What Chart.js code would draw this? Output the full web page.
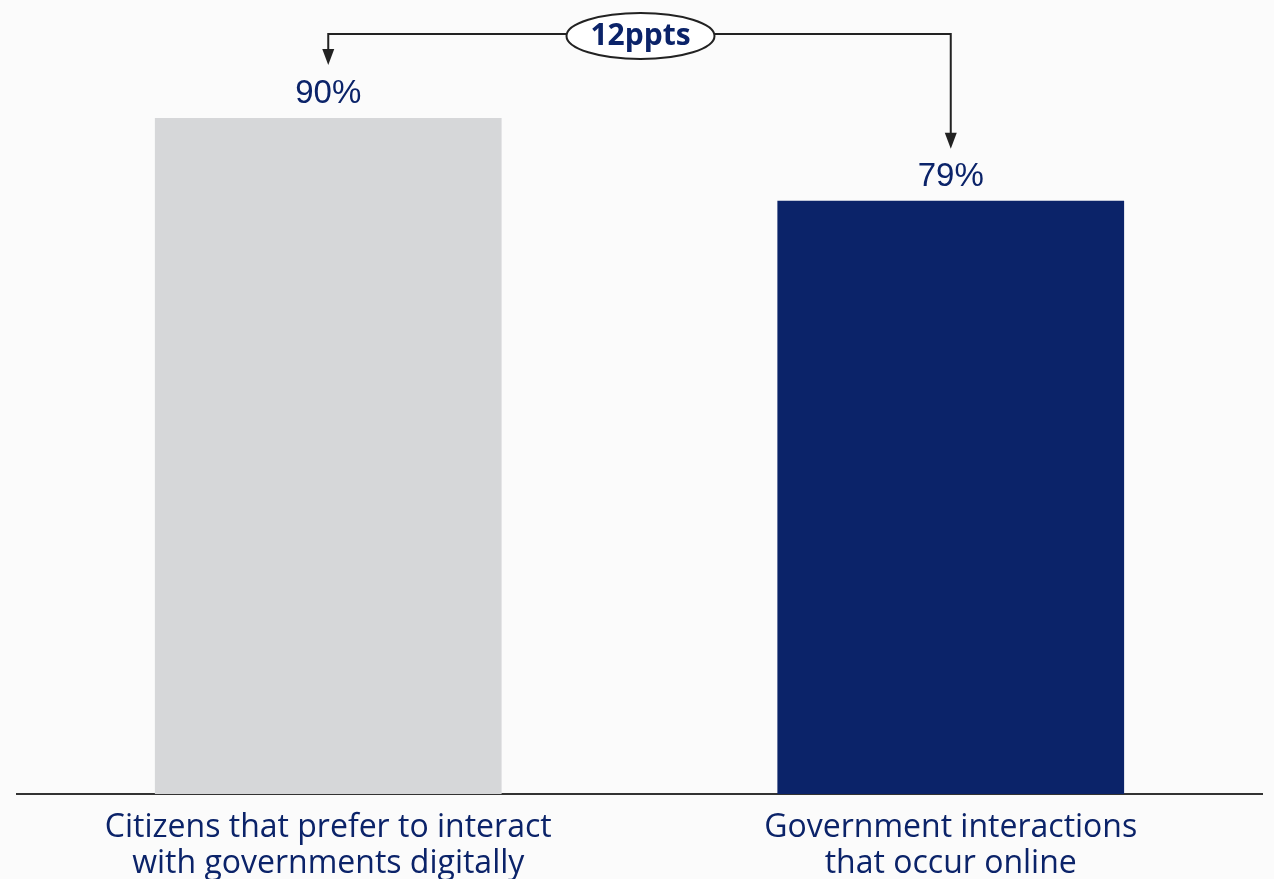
<!DOCTYPE html>
<html>
<head>
<meta charset="utf-8">
<script src="https://cdn.jsdelivr.net/npm/chart.js@4"></script>
<style>
  html, body { margin: 0; padding: 0; background: #fbfbfb; }
  #wrap { width: 1274px; height: 879px; }
</style>
</head>
<body>
<div id="wrap"><canvas id="myChart"></canvas></div>
<script>
var categories = [
  ['Citizens that prefer to interact', 'with governments digitally'],
  ['Government interactions', 'that occur online']
];
var values = [90, 79];
var valueLabels = ['90%', '79%'];
var gapLabel = '12ppts';
var barColors = ['#d6d7d9', '#0b2369'];
var navy = '#0b2369';

// labels above bars + the bracket with the gap bubble
var annotate = {
  id: 'annotate',
  afterDatasetsDraw: function(chart) {
    var ctx = chart.ctx;
    var x = chart.scales.x, y = chart.scales.y;
    ctx.save();
    ctx.font = '33px "Liberation Sans", Arial, sans-serif';
    ctx.fillStyle = navy;
    ctx.textAlign = 'center';
    ctx.textBaseline = 'alphabetic';
    values.forEach(function(v, i) {
      ctx.fillText(valueLabels[i], x.getPixelForValue(i), y.getPixelForValue(v) - 15);
    });

    var x0 = x.getPixelForValue(0), x1 = x.getPixelForValue(1);
    var top = 34;
    var tip0 = y.getPixelForValue(values[0]) - 53;
    var tip1 = y.getPixelForValue(values[1]) - 52;
    ctx.strokeStyle = '#222';
    ctx.fillStyle = '#222';
    ctx.lineWidth = 2;
    ctx.beginPath();
    ctx.moveTo(x0, tip0 - 14);
    ctx.lineTo(x0, top);
    ctx.lineTo(x1, top);
    ctx.lineTo(x1, tip1 - 14);
    ctx.stroke();
    [[x0, tip0], [x1, tip1]].forEach(function(p) {
      ctx.beginPath();
      ctx.moveTo(p[0] - 6, p[1] - 16);
      ctx.lineTo(p[0] + 6, p[1] - 16);
      ctx.lineTo(p[0], p[1]);
      ctx.closePath();
      ctx.fill();
    });

    var cx = (x0 + x1) / 2 + 1;
    ctx.beginPath();
    ctx.ellipse(cx, top + 2, 74, 23, 0, 0, Math.PI * 2);
    ctx.fillStyle = '#ffffff';
    ctx.fill();
    ctx.lineWidth = 2;
    ctx.stroke();
    ctx.fillStyle = navy;
    ctx.font = 'bold 30px "Open Sans", Roboto, sans-serif';
    ctx.textBaseline = 'middle';
    ctx.fillText(gapLabel, cx, top + 2);
    ctx.restore();
  }
};

var ctx = document.getElementById('myChart').getContext('2d');
var myChart = new Chart(ctx, {
  type: 'bar',
  data: {
    labels: categories,
    datasets: [{
      data: values,
      backgroundColor: barColors,
      barPercentage: 0.557,
      categoryPercentage: 1
    }]
  },
  options: {
    responsive: true,
    maintainAspectRatio: false,
    animation: false,
    layout: { padding: { top: 43, left: 17, right: 12, bottom: 0 } },
    plugins: {
      legend: { display: false },
      tooltip: { enabled: false }
    },
    scales: {
      x: {
        afterFit: function(scale) { scale.height = 85; },
        grid: { display: false, drawTicks: false },
        border: { display: true, color: '#333', width: 2 },
        ticks: {
          color: navy,
          padding: 16,
          maxRotation: 0,
          autoSkip: false,
          font: { size: 32, family: '"Open Sans", Roboto, sans-serif', lineHeight: 1.125 }
        }
      },
      y: {
        display: false,
        min: 0,
        max: 100
      }
    }
  },
  plugins: [annotate]
});
</script>
</body>
</html>
